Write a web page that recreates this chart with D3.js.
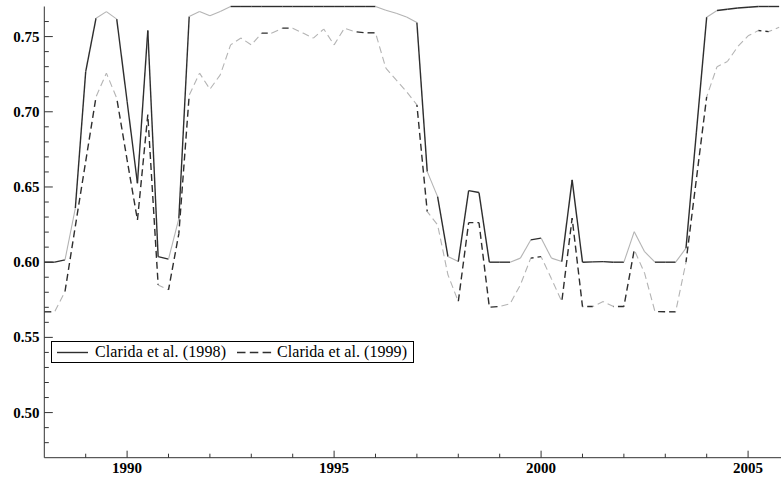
<!DOCTYPE html>
<html><head><meta charset="utf-8">
<script src="https://cdn.jsdelivr.net/npm/d3@7/dist/d3.min.js"></script>
<style>body{margin:0;background:#fff}svg{display:block}</style>
</head><body>
<script>
// Quarterly observations 1988Q1 .. 2005Q4
const startYear = 1988;
const clarida1998 = [
  0.600, 0.600, 0.6015, 0.636,
  0.7267, 0.7622, 0.7666, 0.7616,
  0.707, 0.6525, 0.754, 0.6037,
  0.602, 0.629, 0.7633, 0.7667,
  0.7638, 0.7667, 0.770, 0.770,
  0.770, 0.770, 0.770, 0.770,
  0.770, 0.770, 0.770, 0.770,
  0.770, 0.770, 0.770, 0.770,
  0.770, 0.7675, 0.7655, 0.763,
  0.7593, 0.6602, 0.6436, 0.6037,
  0.6004, 0.6476, 0.6463, 0.600,
  0.600, 0.600, 0.6027, 0.6148,
  0.616, 0.6027, 0.6004, 0.6547,
  0.600, 0.6002, 0.6004, 0.600,
  0.600, 0.6203, 0.607, 0.600,
  0.600, 0.600, 0.6093, 0.686,
  0.7629, 0.7673, 0.7682, 0.769,
  0.7695, 0.770, 0.770, 0.770
];
const clarida1999 = [
  0.567, 0.567, 0.5805, 0.624,
  0.667, 0.710, 0.7257, 0.709,
  0.668, 0.628, 0.698, 0.5849,
  0.5816, 0.619, 0.711, 0.7257,
  0.715, 0.7245, 0.7445, 0.749,
  0.7445, 0.7523, 0.7523, 0.7556,
  0.7556, 0.7523, 0.749, 0.755,
  0.7445, 0.7556, 0.7533, 0.7525,
  0.7525, 0.729, 0.7212, 0.7134,
  0.7046, 0.6336, 0.6248, 0.5916,
  0.5738, 0.6263, 0.6263, 0.5701,
  0.5705, 0.5723, 0.5849, 0.6027,
  0.6037, 0.589, 0.5738, 0.6293,
  0.5705, 0.5705, 0.5738, 0.5705,
  0.5705, 0.6082, 0.5927, 0.5672,
  0.567, 0.567, 0.600, 0.655,
  0.710, 0.730, 0.7334, 0.7433,
  0.7505, 0.754, 0.7533, 0.7562
];
const seriesNames = ["Clarida et al. (1998)", "Clarida et al. (1999)"];
const xMajorTicks = [1990, 1995, 2000, 2005];
const xMinorTicks = [1989,1991,1992,1993,1994,1996,1997,1998,1999,2001,2002,2003,2004];
const yMajorTicks = [0.50, 0.55, 0.60, 0.65, 0.70, 0.75];
const yMinorTicks = [0.48,0.49,0.51,0.52,0.53,0.54,0.56,0.57,0.58,0.59,0.61,0.62,0.63,0.64,0.66,0.67,0.68,0.69,0.71,0.72,0.73,0.74,0.76];

const W = 781, H = 479;
const svg = d3.select("body").append("svg").attr("width", W).attr("height", H);
const x = d3.scaleLinear().domain([1988, 2005.795]).range([44.3, 781]);
const y = d3.scaleLinear().domain([0.47, 0.77]).range([457.7, 6.5]);

const axisColor = "#333";
const FONT = "'Liberation Serif'";

// series
function drawSeries(values, dashed) {
  const pts = values.map((v, i) => [x(startYear + i / 4), y(v)]);
  const g = svg.append("g");
  let cum = 0;
  for (let i = 0; i < pts.length - 1; i++) {
    const [x0, y0] = pts[i], [x1, y1] = pts[i + 1];
    const dx = x1 - x0, dy = y1 - y0;
    const len = Math.hypot(dx, dy);
    const ang = Math.atan2(Math.abs(dy), Math.abs(dx)) * 180 / Math.PI;
    const dark = ang < 14 || ang > 79;
    const seg = g.append("line")
      .attr("x1", x0).attr("y1", y0).attr("x2", x1).attr("y2", y1)
      .attr("stroke", dark ? "#2e2e2e" : "#b4b4b4")
      .attr("stroke-width", dark ? 1.4 : 1.1)
      .attr("stroke-linecap", "butt");
    if (dashed) {
      seg.attr("stroke-dasharray", "7,4").attr("stroke-dashoffset", cum % 11);
    }
    cum += len;
  }
}
drawSeries(clarida1998, false);
drawSeries(clarida1999, true);

// axes
const axes = svg.append("g").attr("stroke", axisColor).attr("stroke-width", 1);
axes.append("line").attr("x1", x(1988)).attr("x2", x(1988)).attr("y1", y(0.77)).attr("y2", y(0.47));
axes.append("line").attr("x1", x(1988)).attr("x2", W).attr("y1", y(0.47)).attr("y2", y(0.47));
yMajorTicks.forEach(t => axes.append("line").attr("x1", x(1988)).attr("x2", x(1988) + 8.5).attr("y1", y(t)).attr("y2", y(t)));
yMinorTicks.forEach(t => axes.append("line").attr("x1", x(1988)).attr("x2", x(1988) + 4.5).attr("y1", y(t)).attr("y2", y(t)));
xMajorTicks.forEach(t => axes.append("line").attr("x1", x(t)).attr("x2", x(t)).attr("y1", y(0.47)).attr("y2", y(0.47) - 7));
xMinorTicks.forEach(t => axes.append("line").attr("x1", x(t)).attr("x2", x(t)).attr("y1", y(0.47)).attr("y2", y(0.47) - 4));

const labels = svg.append("g");
yMajorTicks.forEach(t => labels.append("text").attr("x", 39.5).attr("y", y(t)).attr("dy", "0.33em")
  .attr("text-anchor", "end").style("font-family", FONT).style("font-size", "15px").style("font-weight", "bold")
  .attr("fill", "#000").text(d3.format(".2f")(t)));
xMajorTicks.forEach(t => labels.append("text").attr("x", x(t)).attr("y", 472.7)
  .attr("text-anchor", "middle").style("font-family", FONT).style("font-size", "15px").style("font-weight", "bold")
  .attr("fill", "#000").text(t));

// legend
const lg = svg.append("g");
lg.append("rect").attr("x", 51.5).attr("y", 341.5).attr("width", 362).attr("height", 21)
  .attr("fill", "#fff").attr("stroke", "#000").attr("stroke-width", 1);
lg.append("line").attr("x1", 57).attr("x2", 88).attr("y1", 352.5).attr("y2", 352.5)
  .attr("stroke", "#2e2e2e").attr("stroke-width", 1.4);
lg.append("text").attr("x", 95).attr("y", 357).style("font-family", FONT).style("font-size", "16px")
  .attr("textLength", 131).text(seriesNames[0]);
lg.append("line").attr("x1", 237).attr("x2", 272).attr("y1", 352.5).attr("y2", 352.5)
  .attr("stroke", "#2e2e2e").attr("stroke-width", 1.4).attr("stroke-dasharray", "8.5,4.3");
lg.append("text").attr("x", 277).attr("y", 357).style("font-family", FONT).style("font-size", "16px")
  .attr("textLength", 130).text(seriesNames[1]);
</script>
</body></html>
